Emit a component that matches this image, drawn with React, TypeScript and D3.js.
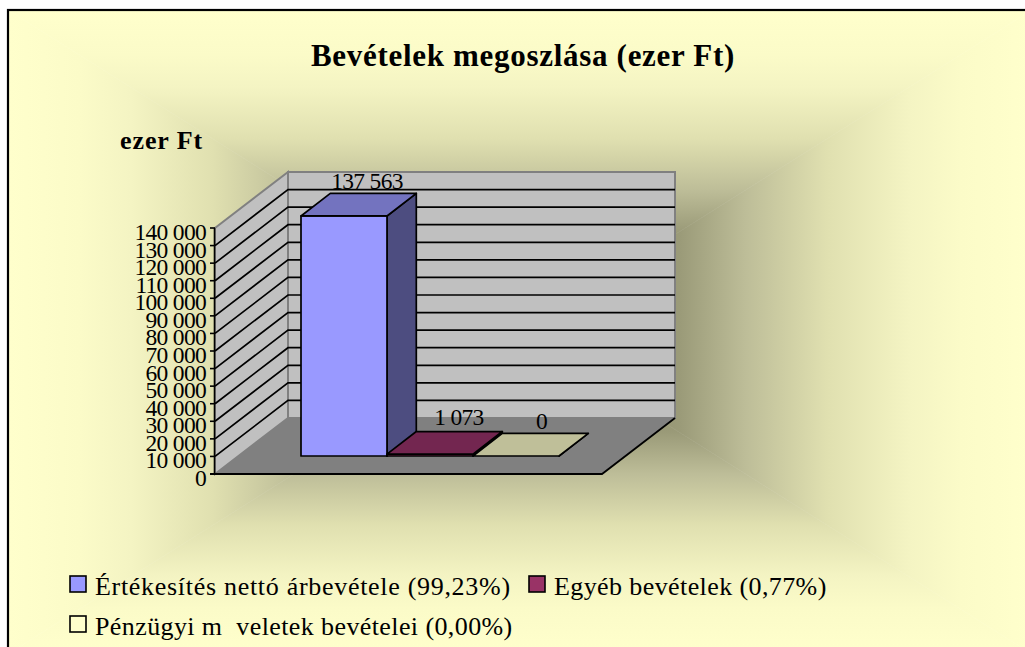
import React from "react";
import * as d3 from "d3";

const title = "Bevételek megoszlása (ezer Ft)";
const axisTitle = "ezer Ft";
const categories = ["Értékesítés nettó árbevétele", "Egyéb bevételek", "Pénzügyi m  veletek bevételei"];
const values = [137563, 1073, 0];
const valueLabels = ["137 563", "1 073", "0"];
const legendLabels = [
  "Értékesítés nettó árbevétele (99,23%)",
  "Egyéb bevételek (0,77%)",
  "Pénzügyi m  veletek bevételei (0,00%)",
];
const tickValues = [0, 10000, 20000, 30000, 40000, 50000, 60000, 70000, 80000, 90000, 100000, 110000, 120000, 130000, 140000];
const barFront = ["#9999FF", "#993366", "#FFFFCC"];
const barTop = ["#7373BF", "#732650", "#BFBF99"];
const barSide = ["#4D4D80", "#4D1A33", "#80804D"];
const gradOffsets = [0, 0.31, 0.44, 0.6, 0.76, 0.86, 1];
const gradColors = ["#7a7a5c", "#9a9a78", "#bdbd98", "#e0e0b0", "#f4f4c3", "#fbfbc8", "#ffffcc"];

const W = 1025, H = 647;
const frame = { l: 8, t: 10, r: 1032, b: 654 };
const cx = (frame.l + frame.r) / 2, cy = (frame.t + frame.b) / 2;
const font = "'Liberation Serif', 'Times New Roman', serif";

const fx0 = 215, fx1 = 602, fy0 = 474, fy1 = 228;
const depthX = 73, depthY = 56;
const y = d3.scaleLinear().domain([0, 140000]).range([fy0, fy1]);
const barBase = 456;
const yBar = d3.scaleLinear().domain([0, 140000]).range([barBase, barBase - 244.3]);
const barDx = 29.3, barDy = 22.6;
const x = d3.scaleBand<string>().domain(categories).range([301, 559]).padding(0);
const labelDx = [23, 29, 25.5];
const labelDy = [27, 29, 27];
const legendSpacing = [0.7, 0.4, 0.4];
const poly = (p: number[][]) => p.map((q) => q.join(",")).join(" ");

function Background() {
  const tris = [
    { id: "gl", x2: frame.l, y2: cy, p: [[frame.l, frame.t], [cx, cy], [frame.l, frame.b]] },
    { id: "gr", x2: frame.r, y2: cy, p: [[frame.r, frame.t], [cx, cy], [frame.r, frame.b]] },
    { id: "gt", x2: cx, y2: frame.t, p: [[frame.l, frame.t], [cx, cy], [frame.r, frame.t]] },
    { id: "gb", x2: cx, y2: frame.b, p: [[frame.l, frame.b], [cx, cy], [frame.r, frame.b]] },
  ];
  return (
    <g>
      <defs>
        {tris.map((t) => (
          <linearGradient key={t.id} id={t.id} gradientUnits="userSpaceOnUse" x1={cx} y1={cy} x2={t.x2} y2={t.y2}>
            {gradOffsets.map((o, i) => (
              <stop key={i} offset={o} stopColor={gradColors[i]} />
            ))}
          </linearGradient>
        ))}
      </defs>
      {tris.map((t) => (
        <polygon key={t.id} points={poly(t.p)} fill={`url(#${t.id})`} stroke={`url(#${t.id})`} strokeWidth={0.6} />
      ))}
      <rect x={frame.l} y={frame.t} width={frame.r - frame.l} height={frame.b - frame.t} fill="none" stroke="#000" strokeWidth={2.2} />
    </g>
  );
}

function Plot() {
  const bx0 = fx0 + depthX, bx1 = fx1 + depthX;
  return (
    <g>
      <polygon points={poly([[fx0, fy0], [fx1, fy0], [bx1, fy0 - depthY], [bx0, fy0 - depthY]])} fill="#808080" />
      <rect x={bx0} y={fy1 - depthY} width={fx1 - fx0} height={fy0 - fy1} fill="#C0C0C0" stroke="#808080" strokeWidth={2} />
      <polygon points={poly([[fx0, fy0], [fx0, fy1], [bx0, fy1 - depthY], [bx0, fy0 - depthY]])} fill="#C0C0C0" stroke="#808080" strokeWidth={2} />
      {tickValues.slice(1, -1).map((t) => (
        <polyline key={t} points={poly([[fx0, y(t)], [bx0, y(t) - depthY], [bx1, y(t) - depthY]])} fill="none" stroke="#000" strokeWidth={1.7} />
      ))}
      <line x1={fx0 - 0.5} x2={fx0 - 0.5} y1={fy1} y2={fy0} stroke="#000" strokeWidth={1.6} />
      <polyline points={poly([[fx0 - 5, fy0], [fx1, fy0], [bx1, fy0 - depthY]])} fill="none" stroke="#000" strokeWidth={1.8} />
      {tickValues.map((t) => (
        <g key={t}>
          <line x1={fx0 - 5} x2={fx0} y1={y(t)} y2={y(t)} stroke="#000" strokeWidth={1.6} />
          <text x={206} y={y(t) + 12} textAnchor="end" fontFamily={font} fontSize={23.5} letterSpacing={-0.7} fill="#000">
            {d3.format(",")(t).replace(/,/g, " ")}
          </text>
        </g>
      ))}
      {categories.map((c, i) => {
        const l = x(c)!, r = l + x.bandwidth();
        const b = barBase;
        const topY = yBar(values[i]);
        return (
          <g key={c} stroke="#000" strokeWidth={1.7} strokeLinejoin="round">
            <polygon points={poly([[r, topY], [r, b], [r + barDx, b - barDy], [r + barDx, topY - barDy]])} fill={barSide[i]} />
            <rect x={l} y={topY} width={r - l} height={Math.max(b - topY, 0)} fill={barFront[i]} />
            <polygon points={poly([[l, topY], [r, topY], [r + barDx, topY - barDy], [l + barDx, topY - barDy]])} fill={barTop[i]} />
          </g>
        );
      })}
      {categories.map((c, i) => {
        const mid = x(c)! + x.bandwidth() / 2;
        return (
          <text key={c} x={mid + labelDx[i]} y={yBar(values[i]) - labelDy[i]} textAnchor="middle" fontFamily={font} fontSize={23.5} letterSpacing={-0.7} fill="#000">
            {valueLabels[i]}
          </text>
        );
      })}
    </g>
  );
}

function Legend() {
  const items = [
    { x: 70, y: 576 },
    { x: 529, y: 576 },
    { x: 70, y: 616 },
  ];
  return (
    <g>
      {legendLabels.map((l, i) => (
        <g key={l}>
          <rect x={items[i].x} y={items[i].y} width={16} height={16} fill={barFront[i]} stroke="#000" strokeWidth={1.6} />
          <text x={items[i].x + 25} y={items[i].y + 19} fontFamily={font} fontSize={26} letterSpacing={legendSpacing[i]} fill="#000" style={{ whiteSpace: "pre" }}>
            {l}
          </text>
        </g>
      ))}
    </g>
  );
}

export default function App() {
  return (
    <svg width={W} height={H} viewBox={`0 0 ${W} ${H}`} style={{ position: "absolute", left: 0, top: 0, background: "#fff" }}>
      <Background />
      <Plot />
      <Legend />
      <text x={523} y={66} textAnchor="middle" fontFamily={font} fontWeight="bold" fontSize={31} letterSpacing={0.7} fill="#000">
        {title}
      </text>
      <text x={120} y={148.5} fontFamily={font} fontWeight="bold" fontSize={26} letterSpacing={0.9} fill="#000">
        {axisTitle}
      </text>
    </svg>
  );
}
